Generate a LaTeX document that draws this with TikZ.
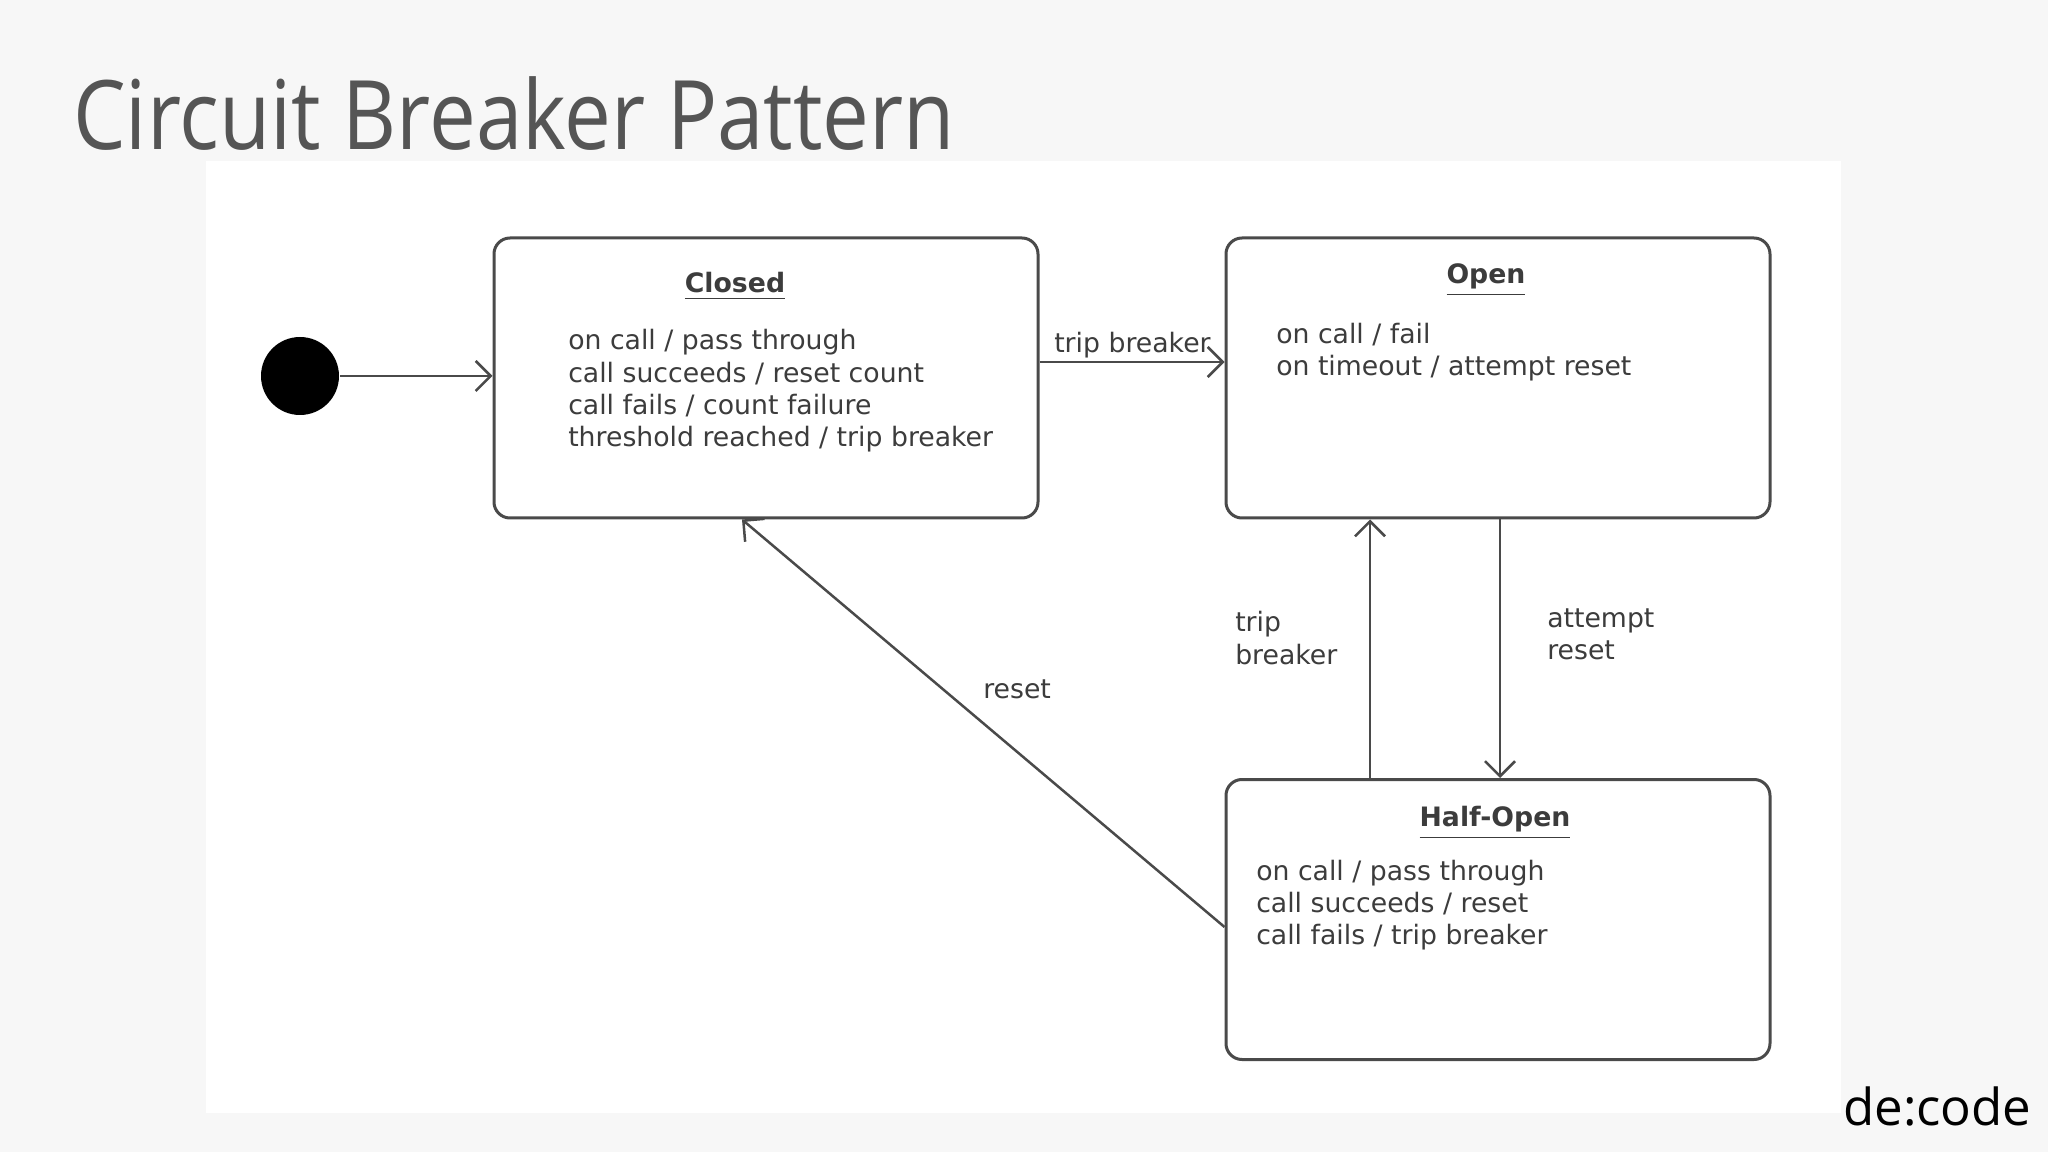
\documentclass[tikz,border=0pt]{standalone}
\usepackage{fontspec}
\setmainfont{DejaVu Sans}
\newfontfamily\slidefont{Open Sans}
\usetikzlibrary{arrows.meta}
\definecolor{slidebg}{HTML}{F7F7F7}
\definecolor{linegray}{HTML}{4A4A4A}
\definecolor{textgray}{HTML}{3C3C3C}
\definecolor{titlegray}{HTML}{555555}
\tikzset{
  state/.style={draw=linegray, line width=0.3mm, rounded corners=1.6mm, fill=white,
    minimum width=5.44cm, minimum height=2.80cm, inner sep=0pt},
  txt/.style={text=textgray, font=\fontsize{7.6}{9.2}\selectfont, inner sep=0pt, anchor=base west, align=left},
  head/.style={text=textgray, font=\fontsize{7.6}{9.2}\selectfont\bfseries, inner sep=0pt, anchor=base},
  >={Straight Barb[length=1.5mm,width=3mm]}
}
\begin{document}
\begin{tikzpicture}[line width=0.25mm, draw=linegray]
  \useasboundingbox (0,0) rectangle (20.48,-11.52);
  \fill[slidebg] (0,0) rectangle (20.48,-11.52);
  \fill[white] (2.06,-1.61) rectangle (18.41,-11.13);

  \node[text=titlegray, font=\slidefont\fontsize{27.3}{30}\selectfont, anchor=base west, inner sep=0pt] (title) at (0.72,-1.50) {\scalebox{0.87}[1]{Circuit Breaker Pattern}};
  \node[font=\slidefont\fontsize{14.5}{16}\selectfont, anchor=base west, inner sep=0pt] (logo) at (18.42,-11.25) {de:code};

  \node[circle, fill=black, minimum size=0.78cm, inner sep=0pt] (init) at (3.00,-3.76) {};
  \node[state] (closed) at (7.66,-3.78) {};
  \node[state] (open) at (14.98,-3.78) {};
  \node[state] (halfopen) at (14.98,-9.195) {};

  \node[head] (closedhead) at (7.35,-2.93) {\underline{Closed}};
  \node[txt] (closedbody) at (5.67,-4.47) {on call / pass through\\call succeeds / reset count\\call fails / count failure\\threshold reached / trip breaker};
  \node[head] (openhead) at (14.86,-2.84) {\underline{Open}};
  \node[txt] (openbody) at (12.75,-3.76) {on call / fail\\on timeout / attempt reset};
  \node[head] (halfhead) at (14.95,-8.27) {\underline{Half-Open}};
  \node[txt] (halfbody) at (12.55,-9.45) {on call / pass through\\call succeeds / reset\\call fails / trip breaker};

  \node[txt] (triplabel) at (10.53,-3.53) {trip breaker};
  \node[txt] (tripuplabel) at (12.34,-6.64) {trip\\breaker};
  \node[txt] (attemptlabel) at (15.46,-6.60) {attempt\\reset};
  \node[txt] (resetlabel) at (9.82,-6.99) {reset};

  \draw[->] (init) -- (closed.west |- init);
  \draw[->] (closed.east |- 0,-3.62) -- (open.west |- 0,-3.62);
  \draw[->] (halfopen.north -| 13.70,0) -- (open.south -| 13.70,0);
  \draw[->] (open.south -| 15.00,0) -- (halfopen.north -| 15.00,0);
  \draw[->] (halfopen.west |- 0,-9.27) -- (closed.south -| 7.42,0);
\end{tikzpicture}
\end{document}
